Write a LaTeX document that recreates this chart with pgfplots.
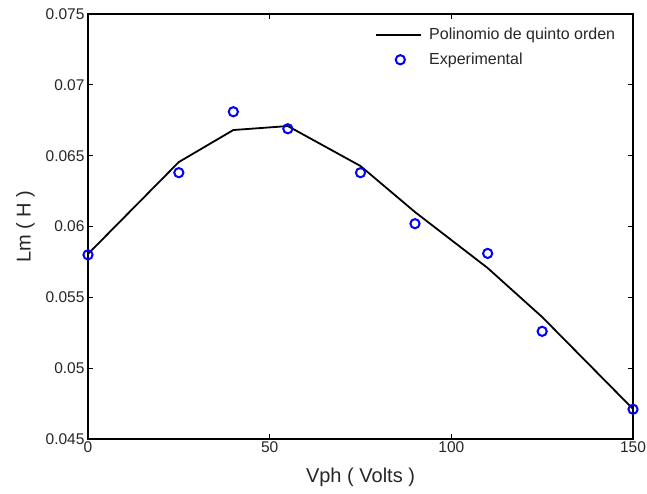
\documentclass[border=0pt]{standalone}
\usepackage{pgfplots}
\pgfplotsset{compat=1.18}
\usepackage{fontspec}
\setmainfont{Liberation Sans}
\setsansfont{Liberation Sans}
\pgfplotsset{
  mylineleg/.style={legend image code/.code={\draw[##1] (0pt,0pt) -- (45pt,0pt);}},
  mymarkleg/.style={legend image code/.code={\draw[##1, mark repeat=2, mark phase=2] plot coordinates {(0pt,0pt) (24pt,0pt) (45pt,0pt)};}},
}
\begin{document}
\begin{tikzpicture}
\useasboundingbox (-88pt,-54pt) rectangle (559pt,439pt);
\begin{axis}[
  at={(0,0)}, anchor=south west,
  scale only axis, width=545pt, height=425pt,
  xmin=0, xmax=150, ymin=0.045, ymax=0.075,
  scaled y ticks=false, scaled x ticks=false,
  xtick={0,50,100,150},
  ytick={0.045,0.05,0.055,0.06,0.065,0.07,0.075},
  yticklabels={0.045,0.05,0.055,0.06,0.065,0.07,0.075},
  xticklabels={0,50,100,150},
  tick align=inside,
  major tick length=5pt,
  tick style={black, line width=0.8pt},
  axis line style={black, line width=1.2pt},
  ticklabel style={font=\fontsize{15.5}{17}\selectfont, text=black!85},
  xticklabel style={yshift=1pt},
  xlabel={Vph ( Volts )},
  ylabel={Lm ( H )},
  label style={font=\fontsize{20}{22}\selectfont, text=black!85},
  xlabel style={yshift=-9pt},
  ylabel style={yshift=4pt},
  legend style={draw=none, fill=none, at={(0.527,0.972)}, anchor=north west,
    inner xsep=0pt, inner ysep=0pt, column sep=5pt,
    font=\fontsize{16}{18}\selectfont, row sep=8pt, text=black!85},
  legend cell align=left,
]
\addplot[black, line width=1.8pt, mylineleg] coordinates {
  (0,0.05806) (25,0.06455) (40,0.06681) (55,0.06709) (75,0.06427)
  (90,0.06102) (110,0.05707) (125,0.05361) (150,0.04712)
};
\addlegendentry{Polinomio de quinto orden}
\addplot[only marks, mark=o, mark size=4.6pt, color={rgb,255:red,0;green,0;blue,255}, mark options={line width=2pt}, mymarkleg] coordinates {
  (0,0.0580) (25,0.0638) (40,0.0681) (55,0.0669) (75,0.0638)
  (90,0.0602) (110,0.0581) (125,0.0526) (150,0.0471)
};
\addlegendentry{Experimental}
\end{axis}
\end{tikzpicture}
\end{document}
